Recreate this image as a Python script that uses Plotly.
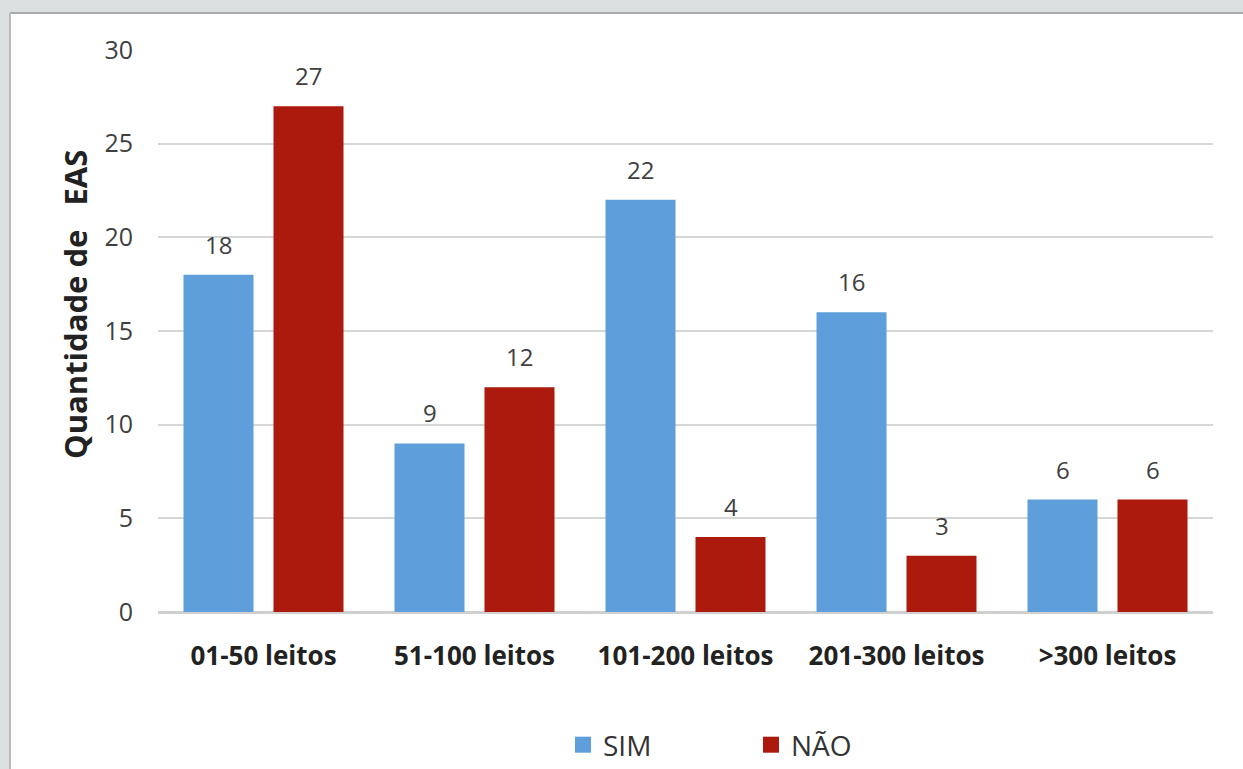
import plotly.graph_objects as go

# Hospital size groups and counts per answer
categorias = ["01-50 leitos", "51-100 leitos", "101-200 leitos", "201-300 leitos", ">300 leitos"]
sim = [18, 9, 22, 16, 6]
nao = [27, 12, 4, 3, 6]
y_ticks = [0, 5, 10, 15, 20, 25, 30]

AZUL = "#5d9edb"
VERMELHO = "#ab1a0c"
FONTE = "Open Sans, Liberation Sans, sans-serif"

W, H = 1243, 769
L, R, T, B = 158, 30, 50, 157

fig = go.Figure()
fig.add_trace(go.Bar(name="SIM", x=categorias, y=sim, marker_color=AZUL,
                     marker_line_width=0, showlegend=False, legendgroup="sim"))
fig.add_trace(go.Bar(name="NÃO", x=categorias, y=nao, marker_color=VERMELHO,
                     marker_line_width=0, showlegend=False, legendgroup="nao"))

# legend entries with larger square swatches
for nome, cor, grp in (("SIM", AZUL, "sim"), ("NÃO", VERMELHO, "nao")):
    fig.add_trace(go.Scatter(name=nome, x=[None], y=[None], mode="markers",
                             legendgroup=grp,
                             marker=dict(symbol="square", size=19, color=cor)))

# value labels above each bar
for serie, sh in ((sim, -45), (nao, 45)):
    for c, v in zip(categorias, serie):
        fig.add_annotation(x=c, y=v, text=str(v), showarrow=False,
                           xshift=sh, yshift=12, yanchor="bottom",
                           font=dict(family=FONTE, size=24, color="#404040"))

pw = W - L - R
ph = H - T - B
def px_x(p):
    return (p - L) / pw
def px_y(p):
    return (H - B - p) / ph

# y-axis title, placed a little above the axis centre
fig.add_annotation(xref="paper", yref="paper", x=px_x(75), y=px_y(305),
                   text="<b>Quantidade de   EAS</b>", textangle=-90,
                   showarrow=False, xanchor="center", yanchor="middle",
                   font=dict(family=FONTE, size=31, color="#222222"))

# white card on the textured gray frame
fig.add_shape(type="rect", xref="paper", yref="paper", layer="below",
              x0=px_x(10), x1=px_x(1300), y0=px_y(820), y1=px_y(13),
              fillcolor="white", line=dict(width=0))
fig.add_shape(type="line", xref="paper", yref="paper", layer="below",
              x0=px_x(10), x1=px_x(1300), y0=px_y(13), y1=px_y(13),
              line=dict(color="#a9abab", width=2))
fig.add_shape(type="line", xref="paper", yref="paper", layer="below",
              x0=px_x(10), x1=px_x(10), y0=px_y(820), y1=px_y(13),
              line=dict(color="#b9bcbc", width=2))

fig.update_layout(
    width=W, height=H,
    margin=dict(l=L, r=R, t=T, b=B, autoexpand=False),
    paper_bgcolor="#dcdfdf",
    plot_bgcolor="white",
    barmode="group",
    bargap=0.147,
    bargroupgap=0.222,
    font=dict(family=FONTE, color="#333333"),
    showlegend=True,
    legend=dict(orientation="h", xref="container", x=563 / W, xanchor="left",
                yref="container", y=(H - 745) / H, yanchor="middle",
                entrywidth=143, entrywidthmode="pixels",
                font=dict(family=FONTE, size=28, color="#333333"),
                bgcolor="rgba(0,0,0,0)", itemwidth=30),
)
fig.update_yaxes(range=[0, 30], tickvals=y_ticks, showgrid=True,
                 gridcolor="#d6d6d6", gridwidth=1.5, zeroline=True,
                 zerolinecolor="#d0d0d0", zerolinewidth=1.5,
                 ticklabelstandoff=24, showline=False, automargin=False,
                 tickfont=dict(family=FONTE, size=25, color="#404040"))
fig.update_xaxes(showgrid=False, showline=True, linecolor="#d0d0d0", linewidth=1.5,
                 ticklabelstandoff=20, automargin=False,
                 tickfont=dict(family=FONTE, size=26, color="#222222"),
                 tickvals=categorias,
                 ticktext=[f"<b>{c}</b>" for c in categorias])

fig.write_html("out.html")
